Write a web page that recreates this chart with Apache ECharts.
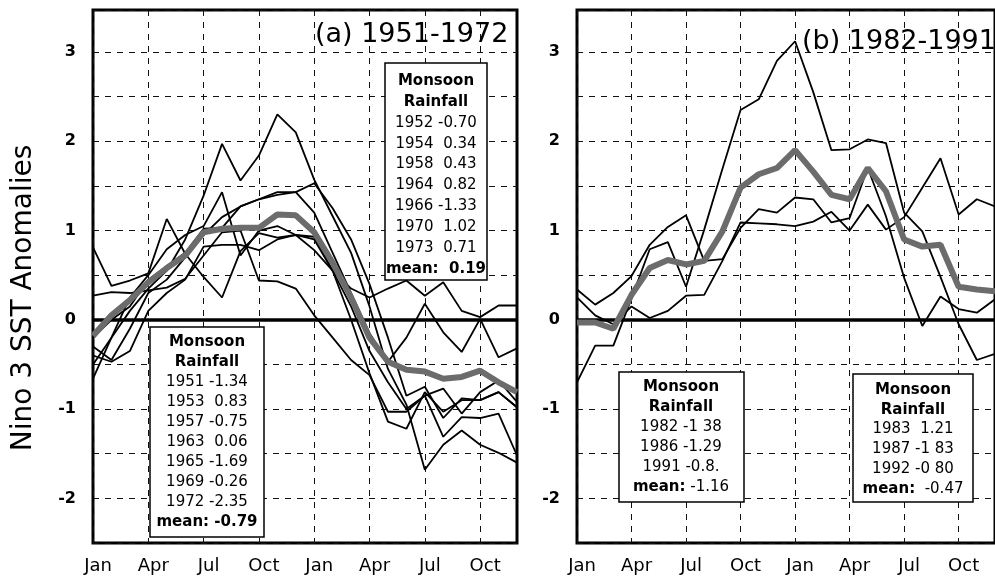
<!DOCTYPE html>
<html>
<head>
<meta charset="utf-8">
<script src="https://cdn.jsdelivr.net/npm/echarts@6/dist/echarts.min.js"></script>
<style>
  html, body { margin: 0; padding: 0; background: #fff; }
  #chart { width: 995px; height: 578px; }
</style>
</head>
<body>
<div id="chart"></div>
<script>
// 两年的月份（Jan..Dec, Jan..Dec）
const months = ['Jan', 'Feb', 'Mar', 'Apr', 'May', 'Jun', 'Jul', 'Aug', 'Sep', 'Oct', 'Nov', 'Dec']
const monthLabels = months.concat(months)

// (a) 1951-1972 各年 Nino 3 SST 距平
const sst1951 = [0.81, 0.38, 0.44, 0.52, 1.13, 0.74, 0.48, 0.25, 0.77, 0.97, 0.92, 0.95, 0.78, 0.55, 0.35, 0.25, 0.35, 0.44, 0.27, 0.42, 0.1, 0.03, 0.16, 0.16]
const sst1953 = [0.27, 0.31, 0.3, 0.33, 0.36, 0.46, 0.72, 0.98, 1.0, 0.44, 0.43, 0.35, 0.05, -0.2, -0.45, -0.62, -1.03, -1.03, -0.85, -0.77, -1.05, -0.81, -0.68, -0.92]
const sst1957 = [-0.2, 0.0, 0.15, 0.45, 0.6, 0.75, 1.02, 1.03, 1.27, 1.35, 1.43, 1.43, 1.2, 0.75, 0.3, -0.15, -0.47, -0.2, 0.18, -0.14, -0.36, 0.01, -0.42, -0.32]
const sst1963 = [-0.4, -0.47, -0.35, 0.1, 0.3, 0.45, 0.82, 0.84, 0.84, 0.78, 0.9, 0.95, 0.93, 0.55, 0.0, -0.6, -1.14, -1.22, -0.81, -1.03, -0.9, -0.9, -0.81, -0.98]
const sst1965 = [-0.66, -0.2, 0.25, 0.5, 0.79, 0.95, 1.05, 1.43, 0.72, 1.0, 1.05, 0.95, 0.9, 0.55, 0.15, -0.35, -0.7, -1.0, -0.85, -1.31, -1.09, -1.1, -1.05, -1.52]
const sst1969 = [-0.3, -0.45, -0.1, 0.3, 0.45, 0.7, 0.95, 1.15, 1.27, 1.35, 1.4, 1.43, 1.53, 1.25, 0.9, 0.4, -0.2, -0.85, -0.75, -1.1, -0.88, -0.9, -0.81, -0.98]
const sst1972 = [-0.5, -0.2, 0.1, 0.35, 0.55, 0.9, 1.39, 1.97, 1.56, 1.84, 2.3, 2.1, 1.57, 1.16, 0.75, 0.15, -0.55, -0.95, -1.68, -1.4, -1.24, -1.4, -1.49, -1.6]
const meanA = [-0.18, 0.05, 0.22, 0.42, 0.58, 0.72, 0.98, 1.02, 1.03, 1.03, 1.18, 1.17, 0.98, 0.64, 0.25, -0.2, -0.47, -0.56, -0.58, -0.66, -0.64, -0.57, -0.7, -0.81]

// (b) 1982-1991
const sst1982 = [-0.7, -0.29, -0.29, 0.24, 0.79, 0.87, 0.37, 1.01, 1.69, 2.35, 2.47, 2.9, 3.12, 2.55, 1.9, 1.91, 2.02, 1.98, 1.2, 0.99, 0.48, -0.05, -0.45, -0.38]
const sst1986 = [0.25, 0.05, -0.05, 0.15, 0.02, 0.1, 0.27, 0.28, 0.66, 1.09, 1.08, 1.07, 1.05, 1.1, 1.21, 1.0, 1.29, 1.01, 1.15, 1.48, 1.81, 1.18, 1.35, 1.27]
const sst1991 = [0.34, 0.17, 0.3, 0.49, 0.84, 1.04, 1.17, 0.66, 0.68, 1.03, 1.24, 1.2, 1.37, 1.35, 1.09, 1.14, 1.7, 1.16, 0.47, -0.07, 0.26, 0.12, 0.08, 0.23]
const meanB = [-0.03, -0.03, -0.1, 0.28, 0.58, 0.67, 0.62, 0.66, 0.99, 1.48, 1.63, 1.7, 1.9, 1.66, 1.4, 1.35, 1.7, 1.44, 0.9, 0.82, 0.84, 0.37, 0.34, 0.32]

// 文本框内容
const boxA1 = ['Monsoon', 'Rainfall', '1951 -1.34', '1953  0.83', '1957 -0.75', '1963  0.06', '1965 -1.69', '1969 -0.26', '1972 -2.35', 'mean: -0.79']
const boxA2 = ['Monsoon', 'Rainfall', '1952 -0.70', '1954  0.34', '1958  0.43', '1964  0.82', '1966 -1.33', '1970  1.02', '1973  0.71', 'mean:  0.19']
const boxB1 = ['Monsoon', 'Rainfall', '1982 -1 38', '1986 -1.29', '1991 -0.8.', 'mean: -1.16']
const boxB2 = ['Monsoon', 'Rainfall', '1983  1.21', '1987 -1 83', '1992 -0 80', 'mean:  -0.47']

const FONT = '"DejaVu Sans", "Liberation Sans", sans-serif'

const chart = echarts.init(document.getElementById('chart'))

function thin(name, data, idx, extra) {
  return Object.assign({
    name: name,
    type: 'line',
    xAxisIndex: idx,
    yAxisIndex: idx,
    data: data,
    symbol: 'none',
    lineStyle: { color: '#000', width: 1.8 },
    z: 3
  }, extra || {})
}

function meanLine(data, idx) {
  return {
    name: 'mean',
    type: 'line',
    xAxisIndex: idx,
    yAxisIndex: idx,
    data: data,
    symbol: 'none',
    lineStyle: { color: '#6c6c6c', width: 6 },
    z: 5
  }
}

// 零线
const zeroLine = {
  symbol: 'none',
  silent: true,
  label: { show: false },
  lineStyle: { color: '#000', width: 3.5, type: 'solid' },
  data: [{ yAxis: 0 }]
}

// 注释框：矩形 + 每行文字
function box(lines, x, y, w, h, cx, y0, step, mixedMean) {
  const els = [{
    type: 'rect',
    shape: { x: x, y: y, width: w, height: h },
    style: { fill: '#fff', stroke: '#000', lineWidth: 1.5 },
    z: 100
  }]
  lines.forEach((t, i) => {
    const bold = i < 2 || (i === lines.length - 1)
    const style = {
      fill: '#000',
      font: (bold ? 'bold ' : '') + '15px ' + FONT,
      align: 'center', textAlign: 'center',
      verticalAlign: 'middle', textVerticalAlign: 'middle'
    }
    if (mixedMean && i === lines.length - 1) {
      const parts = t.split(':')
      style.text = '{b|' + parts[0] + ':}{n|' + parts[1] + '}'
      style.font = '15px ' + FONT
      style.rich = {
        b: { fontWeight: 'bold', fontSize: 15, fontFamily: FONT },
        n: { fontWeight: 'normal', fontSize: 15, fontFamily: FONT }
      }
    } else {
      style.text = t
    }
    els.push({ type: 'text', x: cx, y: y0 + step * i, style: style, z: 101 })
  })
  return els
}

const xAxisBase = {
  type: 'category',
  data: monthLabels,
  boundaryGap: false,
  axisLine: { show: false },
  axisTick: { show: false },
  axisLabel: { interval: 2, fontSize: 18, fontFamily: FONT, color: '#000', margin: 14, padding: [0, 0, 0, 10] },
  splitLine: { show: true, interval: 2, lineStyle: { type: [6, 6], color: '#111', width: 1 } }
}

const yAxisBase = {
  type: 'value',
  min: -2.5,
  max: 3.47,
  interval: 0.5,
  axisLine: { show: false },
  axisTick: { show: false },
  axisLabel: {
    fontSize: 16, fontWeight: 'bold', fontFamily: FONT, color: '#000', margin: 17,
    formatter: v => (Number.isInteger(v) ? String(v) : '')
  },
  splitLine: { show: true, lineStyle: { type: [6, 6], color: '#111', width: 1 } }
}

const option = {
  animation: false,
  backgroundColor: '#fff',
  grid: [
    { left: 93, top: 10, width: 424, height: 533, show: true, borderColor: '#000', borderWidth: 3 },
    { left: 577, top: 10, width: 423, height: 533, show: true, borderColor: '#000', borderWidth: 3 }
  ],
  xAxis: [
    Object.assign({ gridIndex: 0 }, xAxisBase),
    Object.assign({ gridIndex: 1 }, xAxisBase)
  ],
  yAxis: [
    Object.assign({ gridIndex: 0 }, yAxisBase),
    Object.assign({ gridIndex: 1 }, yAxisBase)
  ],
  series: [
    thin('1951', sst1951, 0, { markLine: zeroLine }),
    thin('1953', sst1953, 0),
    thin('1957', sst1957, 0),
    thin('1963', sst1963, 0),
    thin('1965', sst1965, 0),
    thin('1969', sst1969, 0),
    thin('1972', sst1972, 0),
    meanLine(meanA, 0),
    thin('1982', sst1982, 1, { markLine: zeroLine }),
    thin('1986', sst1986, 1),
    thin('1991', sst1991, 1),
    meanLine(meanB, 1)
  ],
  graphic: {
    elements: [
      {
        type: 'text', x: 24, y: 298, rotation: Math.PI / 2,
        style: { text: 'Nino 3 SST Anomalies', font: '28px ' + FONT, fill: '#000',
          align: 'center', textAlign: 'center', verticalAlign: 'middle', textVerticalAlign: 'middle' },
        z: 100
      },
      {
        type: 'text', x: 315, y: 35,
        style: { text: '(a) 1951-1972', font: '27px ' + FONT, fill: '#000',
          align: 'left', textAlign: 'left', verticalAlign: 'middle', textVerticalAlign: 'middle' },
        z: 100
      },
      {
        type: 'text', x: 802, y: 42,
        style: { text: '(b) 1982-1991', font: '27px ' + FONT, fill: '#000',
          align: 'left', textAlign: 'left', verticalAlign: 'middle', textVerticalAlign: 'middle' },
        z: 100
      }
    ]
      .concat(box(boxA1, 150, 327, 114, 210, 207, 342, 20, false))
      .concat(box(boxA2, 385, 63, 102, 217, 436, 81, 20.9, false))
      .concat(box(boxB1, 619, 372, 125, 130, 681, 387, 20, true))
      .concat(box(boxB2, 853, 374, 120, 128, 913, 390, 19.8, true))
  }
}

chart.setOption(option)

window.addEventListener('resize', () => {
  chart.resize()
})
</script>
</body>
</html>
